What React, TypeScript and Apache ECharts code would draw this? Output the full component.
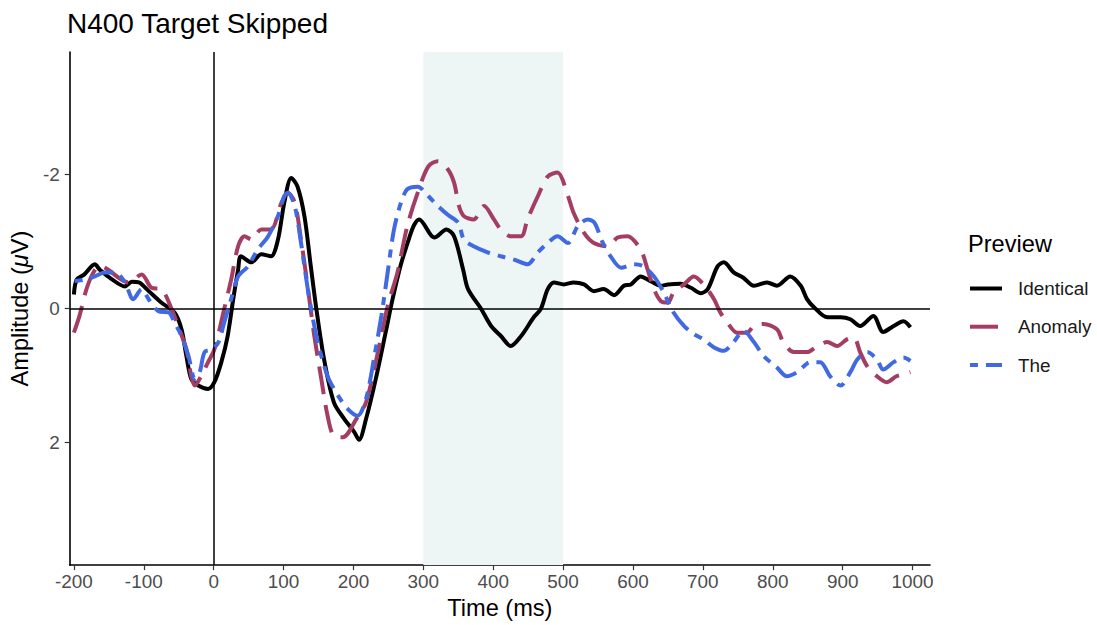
import React, { useEffect, useRef } from "react";
import * as echarts from "echarts";

const FONT = "'Liberation Sans', Arial, Helvetica, sans-serif";

const xTicks = [-200, -100, 0, 100, 200, 300, 400, 500, 600, 700, 800, 900, 1000];
const yTicks = [-2, 0, 2];
const seriesNames = ["Identical", "Anomaly", "The"];
const windowStart = 300;
const windowEnd = 500;

const identicalTime = [-200,-196,-185,-170,-163,-146,-127,-117,-107,-93,-75,-56,-46,-39,-32,-22,-8,1,11,20,28,35,39,54,68,82,92,101,111,120,130,139,147,158,172,187,201,208,218,232,247,256,268,280,287,294,316,333,344,357,364,383,397,411,425,440,458,468,478,487,501,515,530,544,558,573,587,597,611,625,640,650,668,683,697,707,721,730,744,758,773,792,806,825,840,849,859,878,897,911,925,944,958,973,987,997];
const identicalAmp = [-0.21,-0.43,-0.51,-0.66,-0.58,-0.44,-0.33,-0.40,-0.39,-0.26,-0.09,0.06,0.31,0.71,1.05,1.15,1.20,1.10,0.80,0.41,-0.14,-0.58,-0.78,-0.69,-0.81,-0.78,-1.03,-1.58,-1.95,-1.82,-1.37,-0.63,0.01,0.76,1.40,1.65,1.84,1.96,1.65,1.05,0.31,-0.14,-0.66,-1.06,-1.25,-1.33,-1.06,-1.18,-1.08,-0.58,-0.29,0.01,0.26,0.41,0.56,0.41,0.13,0.01,-0.29,-0.39,-0.36,-0.39,-0.36,-0.26,-0.29,-0.20,-0.34,-0.36,-0.48,-0.41,-0.34,-0.36,-0.37,-0.31,-0.23,-0.29,-0.63,-0.69,-0.54,-0.46,-0.34,-0.39,-0.34,-0.48,-0.34,-0.14,-0.02,0.13,0.13,0.16,0.26,0.11,0.35,0.26,0.19,0.28];

const anomalyTime = [-200,-192,-182,-172,-163,-151,-136,-122,-103,-89,-75,-60,-51,-39,-32,-27,-18,-8,1,15,25,35,44,54,68,82,97,106,116,125,135,144,154,163,172,185,204,218,235,249,263,277,292,307,321,335,344,351,358,372,387,401,411,425,440,449,464,478,492,507,515,530,544,564,578,592,611,621,630,640,650,658,673,687,701,716,725,735,749,763,773,787,806,815,830,849,864,878,892,906,916,925,935,949,963,977,987,997];
const anomalyAmp = [0.36,0.11,-0.29,-0.54,-0.64,-0.58,-0.46,-0.39,-0.51,-0.31,-0.29,0.01,0.26,0.61,1.01,1.15,1.01,0.80,0.61,0.01,-0.43,-0.93,-1.08,-1.03,-1.18,-1.18,-1.58,-1.73,-1.58,-1.03,-0.29,0.41,1.05,1.60,1.90,1.92,1.65,1.40,0.65,-0.04,-0.54,-1.23,-1.73,-2.12,-2.20,-2.08,-1.88,-1.53,-1.38,-1.33,-1.53,-1.33,-1.18,-1.08,-1.08,-1.33,-1.68,-1.97,-2.03,-1.68,-1.43,-1.13,-0.98,-0.93,-1.06,-1.08,-0.88,-0.58,-0.29,-0.11,-0.09,-0.24,-0.36,-0.48,-0.36,-0.14,0.06,0.21,0.36,0.36,0.26,0.23,0.31,0.50,0.65,0.65,0.56,0.50,0.56,0.46,0.43,0.65,0.86,1.01,1.10,1.01,0.98,0.95];

const theTime = [-199,-185,-170,-156,-141,-127,-115,-103,-93,-79,-64,-56,-46,-36,-27,-20,-13,-3,7,15,25,35,49,63,78,92,101,106,116,125,137,149,163,178,192,206,218,230,240,249,258,268,277,292,307,321,335,350,358,372,392,411,430,449,464,478,492,507,521,535,545,556,568,583,601,615,630,644,658,673,687,701,716,730,744,758,773,787,806,820,835,854,868,882,897,911,921,935,949,958,973,987,997];
const theAmp = [-0.41,-0.43,-0.48,-0.54,-0.54,-0.39,-0.14,-0.29,-0.14,0.04,0.06,0.21,0.41,0.71,1.05,0.95,0.65,0.61,0.50,0.21,-0.14,-0.48,-0.63,-0.88,-1.08,-1.38,-1.68,-1.73,-1.53,-0.98,-0.14,0.50,1.01,1.30,1.50,1.60,1.35,0.71,0.11,-0.54,-1.18,-1.58,-1.78,-1.82,-1.68,-1.53,-1.40,-1.28,-1.03,-0.93,-0.84,-0.78,-0.73,-0.66,-0.84,-0.98,-1.08,-0.98,-1.23,-1.33,-1.28,-1.00,-0.78,-0.61,-0.66,-0.63,-0.48,-0.24,0.06,0.26,0.38,0.46,0.58,0.63,0.50,0.33,0.50,0.71,0.88,1.01,0.95,0.80,0.80,1.01,1.15,0.95,0.76,0.65,0.76,0.91,0.80,0.73,0.78];

const colors = ["#000000", "#A33D63", "#4169E1"];
const dashes: (number[] | "solid")[] = ["solid", [28, 11], [8, 8, 24, 8]];

function pairs(t: number[], v: number[]) {
  return t.map((x, i) => [x, v[i]]);
}

export default function App() {
  const ref = useRef<HTMLDivElement>(null);
  useEffect(() => {
    if (!ref.current) return;
    const chart = echarts.init(ref.current, undefined, { renderer: "svg" });
    const datasets = [
      pairs(identicalTime, identicalAmp),
      pairs(anomalyTime, anomalyAmp),
      pairs(theTime, theAmp),
    ];
    const series: any[] = seriesNames.map((name, i) => ({
      name,
      type: "line",
      data: datasets[i],
      showSymbol: false,
      symbol: "none",
      smooth: 0.3,
      z: 3 + i,
      lineStyle: { color: colors[i], width: 4, type: dashes[i], cap: "butt" },
    }));
    series.unshift({
      type: "line",
      data: [],
      silent: true,
      z: 1,
      markArea: {
        silent: true,
        itemStyle: { color: "#EEF5F5" },
        data: [[{ xAxis: windowStart }, { xAxis: windowEnd }]],
      },
      markLine: {
        silent: true,
        symbol: ["none", "none"],
        label: { show: false },
        lineStyle: { color: "#000", width: 1.5, type: "solid" },
        data: [{ xAxis: 0 }, { yAxis: 0 }],
      },
    });

    const legendX = 970;
    const legendY = [288.5, 326.7, 365];
    const legendGraphics: any[] = [
      {
        type: "text",
        left: 968,
        top: 232,
        style: { text: "Preview", fontSize: 23.6, fontFamily: FONT, fill: "#000" },
      },
    ];
    seriesNames.forEach((name, i) => {
      legendGraphics.push({
        type: "line",
        shape: { x1: legendX, y1: legendY[i], x2: legendX + 32, y2: legendY[i] },
        style: {
          stroke: colors[i],
          lineWidth: 4,
          lineDash: dashes[i] === "solid" ? null : (dashes[i] as number[]),
        },
      });
      legendGraphics.push({
        type: "text",
        x: 1018,
        y: legendY[i],
        style: {
          text: name,
          fontSize: 18.9,
          fontFamily: FONT,
          fill: "#1A1A1A",
          verticalAlign: "middle",
          align: "left",
        },
      });
    });

    chart.setOption({
      animation: false,
      title: {
        text: "N400 Target Skipped",
        left: 62,
        top: 4,
        textStyle: { fontSize: 28, fontWeight: "normal", fontFamily: FONT, color: "#000" },
      },
      grid: { left: 68, right: 167, top: 52, bottom: 58 },
      xAxis: {
        type: "value",
        min: -206,
        max: 1025,
        splitLine: { show: false },
        axisLine: { show: true, onZero: false, lineStyle: { color: "#000", width: 1.6 } },
        axisTick: { show: true, customValues: xTicks, length: 5, lineStyle: { color: "#333", width: 1.2 } },
        axisLabel: {
          customValues: xTicks,
          formatter: (v: number) => String(v),
          color: "#4D4D4D",
          fontSize: 18.9,
          fontFamily: FONT,
          margin: 7,
        },
        name: "Time (ms)",
        nameLocation: "middle",
        nameGap: 30,
        nameTextStyle: { fontSize: 23.6, fontFamily: FONT, color: "#000" },
      },
      yAxis: {
        type: "value",
        inverse: true,
        min: -3.83,
        max: 3.83,
        splitLine: { show: false },
        axisLine: { show: true, onZero: false, lineStyle: { color: "#000", width: 1.6 } },
        axisTick: { show: true, customValues: yTicks, length: 5, lineStyle: { color: "#333", width: 1.2 } },
        axisLabel: {
          customValues: yTicks,
          formatter: (v: number) => String(v),
          color: "#4D4D4D",
          fontSize: 18.9,
          fontFamily: FONT,
          margin: 10,
        },
        name: "{a|Amplitude (}{b|μ}{a|V)}",
        nameLocation: "middle",
        nameGap: 33,
        nameRotate: 90,
        nameTextStyle: {
          rich: {
            a: { fontSize: 23.6, fontFamily: FONT, color: "#000" },
            b: { fontSize: 23.6, fontFamily: FONT, color: "#000", fontStyle: "italic" },
          },
        },
      },
      series,
      graphic: legendGraphics,
    });
    return () => chart.dispose();
  }, []);
  return (
    <div
      ref={ref}
      style={{ position: "absolute", left: 0, top: 0, width: 1097, height: 625, background: "#fff" }}
    />
  );
}
